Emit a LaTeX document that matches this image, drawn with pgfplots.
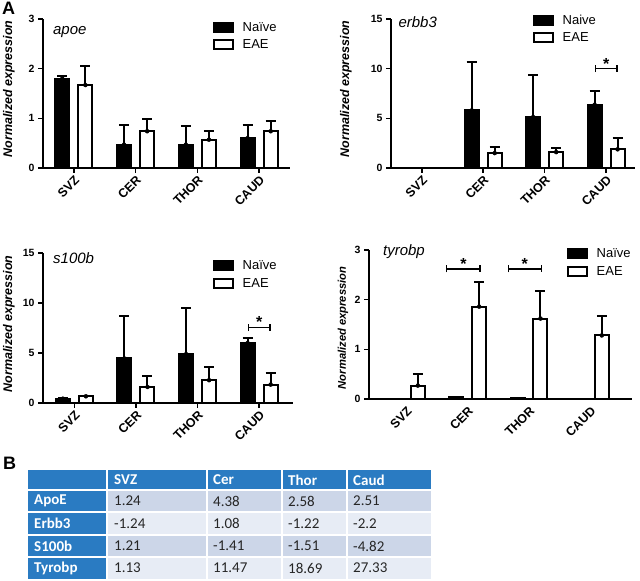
\documentclass[border=0pt]{standalone}
\usepackage{fontspec}
\setmainfont{Liberation Sans}
\newfontfamily\tabfont{Carlito}
\usepackage{pgfplots}
\pgfplotsset{compat=1.18}
\usetikzlibrary{arrows.meta}

\definecolor{hdrblue}{HTML}{2A7BC2}
\definecolor{rowdark}{HTML}{CCD6E8}
\definecolor{rowlight}{HTML}{E7ECF5}

% bars of each pair sit at x -/+ 0.187 (about 11.5 px either side of the group)
\pgfplotsset{
  panel/.style={
    scale only axis,
    clip=false,
    axis x line=bottom, axis y line=left,
    axis line style={/tikz/line width=2pt,-},
    every tick/.style={black, /tikz/line width=1.6pt},
    tick align=outside,
    major tick length=5pt,
    ymin=0,
    xtick={0,1,2,3},
    xticklabels={SVZ,CER,THOR,CAUD},
    xticklabel style={rotate=45, anchor=north east, inner sep=1pt,
      font=\bfseries\fontsize{12.5}{13}\selectfont},
    yticklabel style={font=\bfseries\fontsize{10.5}{11}\selectfont},
    /pgf/number format/assume math mode=true,
    ylabel={Normalized expression},
    ylabel style={font=\bfseries\itshape\fontsize{12.5}{13}\selectfont, anchor=center},
    legend image code/.code={\draw[##1] (0pt,-4.5pt) rectangle (19pt,4.5pt); \path (26pt,0pt);},
    legend style={draw=none, fill=none, inner sep=0pt, row sep=4pt,
      anchor=north west, font=\fontsize{13}{13}\selectfont,
      nodes={inner sep=1.5pt}},
    legend cell align=left,
  },
  naive/.style={ybar, bar width=14pt, bar shift=0pt, fill=black, draw=black,
    /tikz/line width=2pt, forget plot},
  eae/.style={ybar, bar width=14pt, bar shift=0pt, fill=white, draw=black,
    /tikz/line width=2pt, forget plot},
  errs/.style={only marks, mark=none, forget plot,
    error bars/.cd, y dir=plus, y explicit,
    error bar style={draw=black, /tikz/line width=2pt},
    error mark options={rotate=90, mark size=5pt, draw=black, /tikz/line width=2pt}},
}
\tikzset{
  gene/.style={font=\itshape\fontsize{15}{15}\selectfont, anchor=base west, inner sep=0pt},
  star/.style={font=\bfseries\fontsize{16}{16}\selectfont, anchor=base, inner sep=0pt},
  bracket/.style={line width=1.6pt, {Bar[width=7pt]}-{Bar[width=7pt]}},
}

\begin{document}
\begin{tikzpicture}[x=1pt,y=1pt]
\useasboundingbox (0pt,0pt) rectangle (640pt,581pt);

\node[anchor=north west, inner sep=0pt, font=\bfseries\fontsize{18}{18}\selectfont] at (2pt,579pt) {A};
\node[anchor=north west, inner sep=0pt, font=\bfseries\fontsize{18}{18}\selectfont] at (3pt,124pt) {B};

% apoe
\begin{axis}[panel, at={(43pt,413pt)}, anchor=south west, width=247pt, height=149pt,
  xmin=-0.5, xmax=3.5, ymax=3, ytick={0,1,2,3},
  ylabel style={at={(rel axis cs:0,0.53)}, yshift=34pt},
  legend style={at={(rel axis cs:0.688,0.99)}}]
\addplot[naive] coordinates {(-0.187,1.80) (0.813,0.47) (1.813,0.47) (2.813,0.60)};
\addplot[eae] coordinates {(0.187,1.67) (1.187,0.74) (2.187,0.57) (3.187,0.74)};
\addplot[errs] coordinates {(-0.187,1.80) +- (0,0.06) (0.813,0.47) +- (0,0.40) (1.813,0.47) +- (0,0.37) (2.813,0.60) +- (0,0.26)};
\addplot[errs] coordinates {(0.187,1.67) +- (0,0.38) (1.187,0.74) +- (0,0.25) (2.187,0.57) +- (0,0.18) (3.187,0.74) +- (0,0.20)};
\addlegendimage{fill=black, draw=black, line width=2pt}
\addlegendentry{Naïve}
\addlegendimage{fill=white, draw=black, line width=2pt}
\addlegendentry{EAE}
\node[gene] at (rel axis cs:0.04,0.893) {apoe};
\end{axis}

% erbb3
\begin{axis}[panel, at={(391pt,413pt)}, anchor=south west, width=244pt, height=149pt,
  xmin=-0.5, xmax=3.47, ymax=15, ytick={0,5,10,15},
  ylabel style={at={(rel axis cs:0,0.53)}, yshift=45pt},
  legend style={at={(rel axis cs:0.582,1.04)}}]
\addplot[naive] coordinates {(0.813,5.80) (1.813,5.13) (2.813,6.37)};
\addplot[eae] coordinates {(1.187,1.50) (2.187,1.60) (3.187,1.88)};
\addplot[errs] coordinates {(0.813,5.80) +- (0,4.87) (1.813,5.13) +- (0,4.27) (2.813,6.37) +- (0,1.43)};
\addplot[errs] coordinates {(1.187,1.50) +- (0,0.60) (2.187,1.60) +- (0,0.40) (3.187,1.88) +- (0,1.17)};
\addlegendimage{fill=black, draw=black, line width=2pt}
\addlegendentry{Naive}
\addlegendimage{fill=white, draw=black, line width=2pt}
\addlegendentry{EAE}
\node[gene] at (rel axis cs:0.03,0.946) {erbb3};
\draw[bracket] (axis cs:2.813,10.0) -- (axis cs:3.187,10.0);
\node[star] at (axis cs:3,10.0) [yshift=-0.5pt] {*};
\end{axis}

% s100b
\begin{axis}[panel, at={(43pt,178pt)}, anchor=south west, width=250pt, height=150pt,
  xmin=-0.51, xmax=3.55, ymax=15, ytick={0,5,10,15},
  ylabel style={at={(rel axis cs:0,0.527)}, yshift=34pt},
  legend style={at={(rel axis cs:0.68,0.96)}}]
\addplot[naive] coordinates {(-0.187,0.43) (0.813,4.45) (1.813,4.89) (2.813,6.00)};
\addplot[eae] coordinates {(0.187,0.67) (1.187,1.60) (2.187,2.28) (3.187,1.84)};
\addplot[errs] coordinates {(-0.187,0.43) +- (0,0.05) (0.813,4.45) +- (0,4.25) (1.813,4.89) +- (0,4.65) (2.813,6.00) +- (0,0.50)};
\addplot[errs] coordinates {(0.187,0.67) +- (0,0.05) (1.187,1.60) +- (0,1.08) (2.187,2.28) +- (0,1.32) (3.187,1.84) +- (0,1.11)};
\addlegendimage{fill=black, draw=black, line width=2pt}
\addlegendentry{Naïve}
\addlegendimage{fill=white, draw=black, line width=2pt}
\addlegendentry{EAE}
\node[gene] at (rel axis cs:0.04,0.933) {s100b};
\draw[bracket] (axis cs:2.813,7.53) -- (axis cs:3.187,7.53);
\node[star] at (axis cs:3,7.53) [yshift=0pt] {*};
\end{axis}

% tyrobp
\begin{axis}[panel, at={(369pt,182pt)}, anchor=south west, width=263pt, height=149pt,
  xmin=-0.61, xmax=3.68, ymax=3, ytick={0,1,2,3},
  xtick style={draw=none},
  ylabel style={at={(rel axis cs:0,0.477)}, yshift=26pt, font=\bfseries\itshape\fontsize{11.2}{12}\selectfont},
  legend style={at={(rel axis cs:0.753,1.02)}}]
\addplot[naive] coordinates {(-0.187,0.01) (0.813,0.05) (1.813,0.02)};
\addplot[eae] coordinates {(0.187,0.27) (1.187,1.86) (2.187,1.62) (3.187,1.28)};
\addplot[errs] coordinates {(0.187,0.27) +- (0,0.23) (1.187,1.86) +- (0,0.50) (2.187,1.62) +- (0,0.55) (3.187,1.28) +- (0,0.40)};
\addlegendimage{fill=black, draw=black, line width=2pt}
\addlegendentry{Naïve}
\addlegendimage{fill=white, draw=black, line width=2pt}
\addlegendentry{EAE}
\node[gene] at (rel axis cs:0.053,0.966) {tyrobp};
\draw[bracket] (axis cs:0.64,2.62) -- (axis cs:1.21,2.62);
\node[star] at (axis cs:0.93,2.62) [yshift=-1pt] {*};
\draw[bracket] (axis cs:1.65,2.62) -- (axis cs:2.22,2.62);
\node[star] at (axis cs:1.93,2.62) [yshift=-1pt] {*};
\end{axis}

% table B
\fill[hdrblue] (28pt,111pt) rectangle (431pt,91pt);
\fill[hdrblue] (28pt,91pt) rectangle (107pt,2pt);
\fill[rowdark] (107pt,91pt) rectangle (431pt,69pt);
\fill[rowlight] (107pt,69pt) rectangle (431pt,46pt);
\fill[rowdark] (107pt,46pt) rectangle (431pt,24pt);
\fill[rowlight] (107pt,24pt) rectangle (431pt,2pt);
\foreach \y in {91,69,46,24} \draw[white, line width=2pt] (28pt,\y pt) -- (431pt,\y pt);
\foreach \x in {107,207,282,347} \draw[white, line width=2pt] (\x pt,111pt) -- (\x pt,2pt);
\begin{scope}[every node/.style={anchor=west, inner sep=0pt, font=\tabfont\fontsize{15}{15}\selectfont}]
\foreach \x/\t in {114/SVZ,213/Cer,288/Thor,353/Caud}
  \node[text=white, font=\tabfont\bfseries\fontsize{15}{15}\selectfont] at (\x pt,101pt) {\t};
\foreach \y/\t in {80/ApoE,57.5/Erbb3,35/S100b,13/Tyrobp}
  \node[text=white, font=\tabfont\bfseries\fontsize{15}{15}\selectfont] at (34pt,\y pt) {\t};
\foreach \y/\a/\b/\c/\d in {80/1.24/4.38/2.58/2.51, 57.5/-1.24/1.08/-1.22/-2.2, 35/1.21/-1.41/-1.51/-4.82, 13/1.13/11.47/18.69/27.33}{
  \node[text=black!85] at (114pt,\y pt) {\a};
  \node[text=black!85] at (213pt,\y pt) {\b};
  \node[text=black!85] at (288pt,\y pt) {\c};
  \node[text=black!85] at (353pt,\y pt) {\d};
}
\end{scope}
\end{tikzpicture}
\end{document}
